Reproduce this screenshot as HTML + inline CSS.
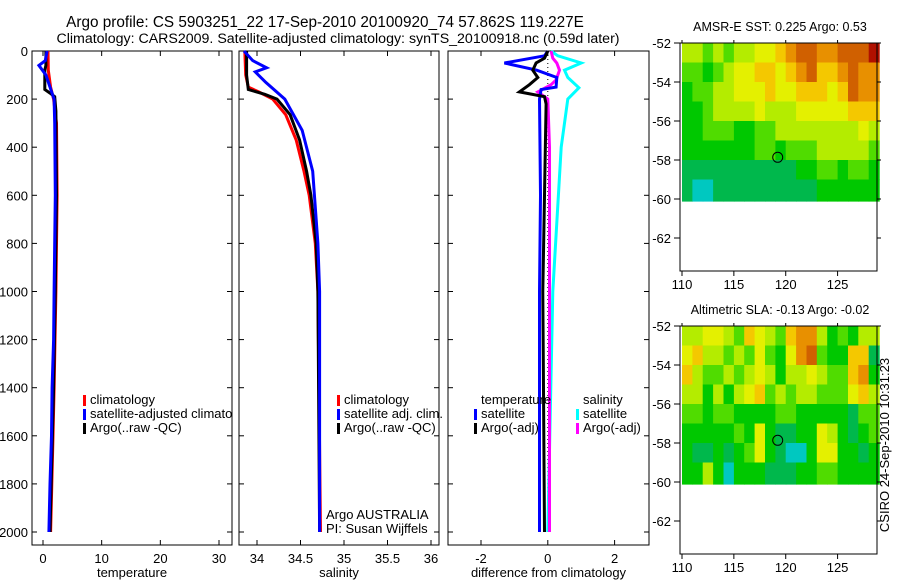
<!DOCTYPE html>
<html><head><meta charset="utf-8"><style>
html,body{margin:0;padding:0;background:#fff;}
svg{display:block;font-family:"Liberation Sans",sans-serif;}
</style></head><body>
<svg id="fig" width="900" height="580" xmlns="http://www.w3.org/2000/svg">
<defs><clipPath id="c1"><rect x="32" y="51" width="200" height="494"/></clipPath></defs>
<text x="325" y="27" font-size="15.3" text-anchor="middle">Argo profile: CS 5903251_22 17-Sep-2010 20100920_74 57.862S 119.227E</text>
<text x="338" y="43" font-size="14.2" text-anchor="middle">Climatology: CARS2009. Satellite-adjusted climatology: synTS_20100918.nc (0.59d later)</text>
<g id="g"></g>
</svg>
<script>
// ---- data ----
const depthTicks=[0,200,400,600,800,1000,1200,1400,1600,1800,2000];
const tempTicks=[0,10,20,30];
const salTicks=[34,34.5,35,35.5,36];
const diffTicks=[-2,0,2];
// temperature profiles
const tClimD=[0,80,150,200,300,600,1000,1400,1600,1800,2000];
const tClimV=[0.85,0.9,1.3,1.8,2.3,2.4,2.2,1.9,1.7,1.5,1.3];
const tSatD=[0,40,60,100,150,200,300,600,1000,1200,1400,1600,1800,2000];
const tSatV=[0.7,0.4,-0.7,0.5,1.2,1.9,2.0,2.1,1.9,1.8,1.55,1.45,1.2,1.0];
const tArgoD=[0,60,80,160,175,190,250,600,1000,1400,1600,1800,2000];
const tArgoV=[0.5,0.5,0.3,0.3,1.2,2.0,2.2,2.3,2.1,1.8,1.6,1.4,1.2];
// salinity profiles
const sClimD=[0,100,150,170,200,265,370,500,600,800,1000,2000];
const sClimV=[33.86,33.87,33.9,34.02,34.18,34.33,34.45,34.54,34.6,34.67,34.7,34.73];
const sSatD=[0,40,70,87,130,200,330,500,800,1000,2000];
const sSatV=[33.85,33.95,34.11,33.98,34.1,34.32,34.52,34.64,34.7,34.72,34.72];
const sArgoD=[0,100,160,180,200,265,370,500,600,800,1000,2000];
const sArgoV=[33.88,33.88,33.9,34.09,34.23,34.38,34.49,34.57,34.62,34.68,34.7,34.72];
// differences
const dTSatD=[0,20,50,80,110,150,160,200,600,1000,2000];
const dTSatV=[0,-0.1,-1.3,-0.33,0.27,0.25,-0.2,-0.25,-0.22,-0.25,-0.25];
const dTArgoD=[0,30,50,80,110,140,170,190,220,600,1000,2000];
const dTArgoV=[0,-0.1,-0.35,-0.45,-0.3,-0.55,-0.85,-0.1,-0.05,-0.1,-0.15,-0.1];
const dSSatD=[0,20,50,80,110,153,200,400,1000,2000];
const dSSatV=[0.1,0.3,1.0,0.5,0.6,0.93,0.6,0.4,0.15,0.0];
const dSArgoD=[0,30,50,80,120,140,170,200,400,1000,2000];
const dSArgoV=[0.1,0.15,0.27,0.35,0.25,0.1,-0.3,0.0,0.05,0.05,0.05];
// maps (rows -52..-60, cols 110..128), colour index 0-9
const sstGrid=["4434344556788778889","3323455665678667877","2334455565566656877","2234444544455555666","2233322334444444454","2222222332333444443","1111111111122332332","1001111111111222222"];
const slaGrid=["4455436543677423244","5644343532578322661","6433434542445433672","4424245634344333564","3323322223322222133","2222232521122542123","2112123521002552212","2242022211122332222"];
const mapLatTicks=[-52,-54,-56,-58,-60,-62];
const mapLonTicks=[110,115,120,125];
const argoLon=119.227, argoLat=-57.862;
const cmap=["#00c8c0","#00b84c","#00c800","#50dc00","#b4ec00","#e4f000","#f4c800","#e89000","#d06000","#b01000"];

// ---- drawing ----
const NS="http://www.w3.org/2000/svg";
const G=document.getElementById('g');
function el(t,a,p){const e=document.createElementNS(NS,t);for(const k in a)e.setAttribute(k,a[k]);(p||G).appendChild(e);return e;}
const dy=d=>51+d*0.2405;
function lin(d0,d1,r0,r1){return v=>r0+(v-d0)*(r1-r0)/(d1-d0);}
const panels=[
 {x0:32,x1:232,sx:lin(0,30,43,219),ticks:tempTicks,lab:"temperature",name:"temperature-panel"},
 {x0:239,x1:439,sx:lin(34,36,257,431),ticks:salTicks,lab:"salinity",name:"salinity-panel"},
 {x0:448,x1:649,sx:lin(-2,2,481,614.6),ticks:diffTicks,lab:"difference from climatology",name:"difference-panel"}];
panels.forEach((p,i)=>{
 const g=el('g',{});
 
 
 const fr=el('rect',{x:p.x0,y:51,width:p.x1-p.x0,height:494,fill:'none',stroke:'#000','stroke-width':1},g);
 
 
 depthTicks.forEach(d=>{
  el('line',{x1:p.x0,x2:p.x0+5,y1:dy(d),y2:dy(d),stroke:'#000'},g);
  el('line',{x1:p.x1,x2:p.x1-5,y1:dy(d),y2:dy(d),stroke:'#000'},g);
  if(i==0){const t=el('text',{x:28,y:dy(d)+5,'font-size':13,'text-anchor':'end'},g);t.textContent=d;
   
   }
 });
 p.ticks.forEach(v=>{const x=p.sx(v);
  el('line',{x1:x,x2:x,y1:545,y2:540,stroke:'#000'},g);
  el('line',{x1:x,x2:x,y1:51,y2:56,stroke:'#000'},g);
  const t=el('text',{x:x,y:563,'font-size':13,'text-anchor':'middle'},g);t.textContent=v;
  
  
 });
 const l=el('text',{x:(p.x0+p.x1)/2,y:577,'font-size':13,'text-anchor':'middle'},g);l.textContent=p.lab;
 
 
});
function prof(pi,D,V,col,nm,w,dash){
 const p=panels[pi];
 const pts=D.map((d,k)=>p.sx(V[k]).toFixed(1)+','+dy(d).toFixed(1)).join(' ');
 const e=el('polyline',{points:pts,fill:'none',stroke:col,'stroke-width':w||3});
 if(dash)e.setAttribute('stroke-dasharray',dash);
 
 
}
prof(0,tClimD,tClimV,'#f00','temp-climatology-line');
prof(0,tArgoD,tArgoV,'#000','temp-argo-line');
prof(0,tSatD,tSatV,'#00f','temp-satellite-line');
prof(1,sClimD,sClimV,'#f00','sal-climatology-line');
prof(1,sArgoD,sArgoV,'#000','sal-argo-line');
prof(1,sSatD,sSatV,'#00f','sal-satellite-line');
prof(2,[0,2000],[0,0],'#000','zero-line',1,'1,3');
prof(2,dSSatD,dSSatV,'#0ff','sal-satellite-diff-line');
prof(2,dSArgoD,dSArgoV,'#f0f','sal-argo-diff-line');
prof(2,dTSatD,dTSatV,'#00f','temp-satellite-diff-line');
prof(2,dTArgoD,dTArgoV,'#000','temp-argo-diff-line');

function legend(x,y,items,nm,clip){
 const g=el('g',{});
 if(clip)g.setAttribute('clip-path','url(#'+clip+')');
 
 
 items.forEach((it,k)=>{
  if(it[1])el('rect',{x:x,y:y+k*14-9,width:3,height:11,fill:it[1]},g);
  const t=el('text',{x:x+7,y:y+k*14,'font-size':13},g);t.textContent=it[0];
  
  
 });
}
legend(83,404,[["climatology","#f00"],["satellite-adjusted climatology","#00f"],["Argo(..raw -QC)","#000"]],'temperature-legend','c1');
legend(337,404,[["climatology","#f00"],["satellite adj. clim.","#00f"],["Argo(..raw -QC)","#000"]],'salinity-legend');
legend(474,404,[["temperature",null],["satellite","#00f"],["Argo(-adj)","#000"]],'diff-temp-legend');
legend(576,404,[["salinity",null],["satellite","#0ff"],["Argo(-adj)","#f0f"]],'diff-sal-legend');
const cr=el('g',{});


[["Argo AUSTRALIA",519],["PI: Susan Wijffels",533]].forEach(a=>{const t=el('text',{x:326,y:a[1],'font-size':13},cr);t.textContent=a[0];});
// ---- maps ----
function map(top,grid,title,nm){
 const lx=lin(110,128.8,682,877), ly=lin(-52,-62,top,top+195);
 const g=el('g',{});
 
 
 grid.forEach((row,r)=>{[...row].forEach((c,k)=>{
  const x0=lx(110+k),x1=lx(111+k);const y0=ly(-52-r),y1=ly(-53-r-(r==7?0.1:0));
  el('rect',{x:x0.toFixed(1),y:y0.toFixed(1),width:(x1-x0+0.6).toFixed(1),height:(y1-y0+0.6).toFixed(1),fill:cmap[+c]},g);
 });});
 const bottom=top+228;
 el('rect',{x:680,y:top,width:197,height:bottom-top,fill:'none',stroke:'#000'},g);
 mapLatTicks.forEach(v=>{const y=ly(v);
  el('line',{x1:680,x2:674,y1:y,y2:y,stroke:'#000'},g);el('line',{x1:877,x2:881,y1:y,y2:y,stroke:'#000'},g);
  const t=el('text',{x:671,y:y+5,'font-size':13,'text-anchor':'end'},g);t.textContent=v;
  
  });
 mapLonTicks.forEach(v=>{const x=lx(v);
  el('line',{x1:x,x2:x,y1:bottom,y2:bottom+5,stroke:'#000'},g);el('line',{x1:x,x2:x,y1:top,y2:top-3,stroke:'#000'},g);
  const t=el('text',{x:x,y:bottom+18,'font-size':13,'text-anchor':'middle'},g);t.textContent=v;
  
  });
 const m=el('circle',{cx:lx(argoLon),cy:ly(argoLat),r:5,fill:'none',stroke:'#000','stroke-width':1},g);
 
 
 const t=el('text',{x:780,y:top-12,'font-size':12.5,'text-anchor':'middle'},g);t.textContent=title;
 
 
}
map(43,sstGrid,"AMSR-E SST: 0.225 Argo: 0.53",'sst-map');
map(326,slaGrid,"Altimetric SLA: -0.13 Argo: -0.02",'sla-map');
const ts=el('text',{x:0,y:0,'font-size':13,'text-anchor':'middle',transform:'translate(889,445) rotate(-90)'});
ts.textContent="CSIRO 24-Sep-2010 10:31:23";


</script>
</body></html>
